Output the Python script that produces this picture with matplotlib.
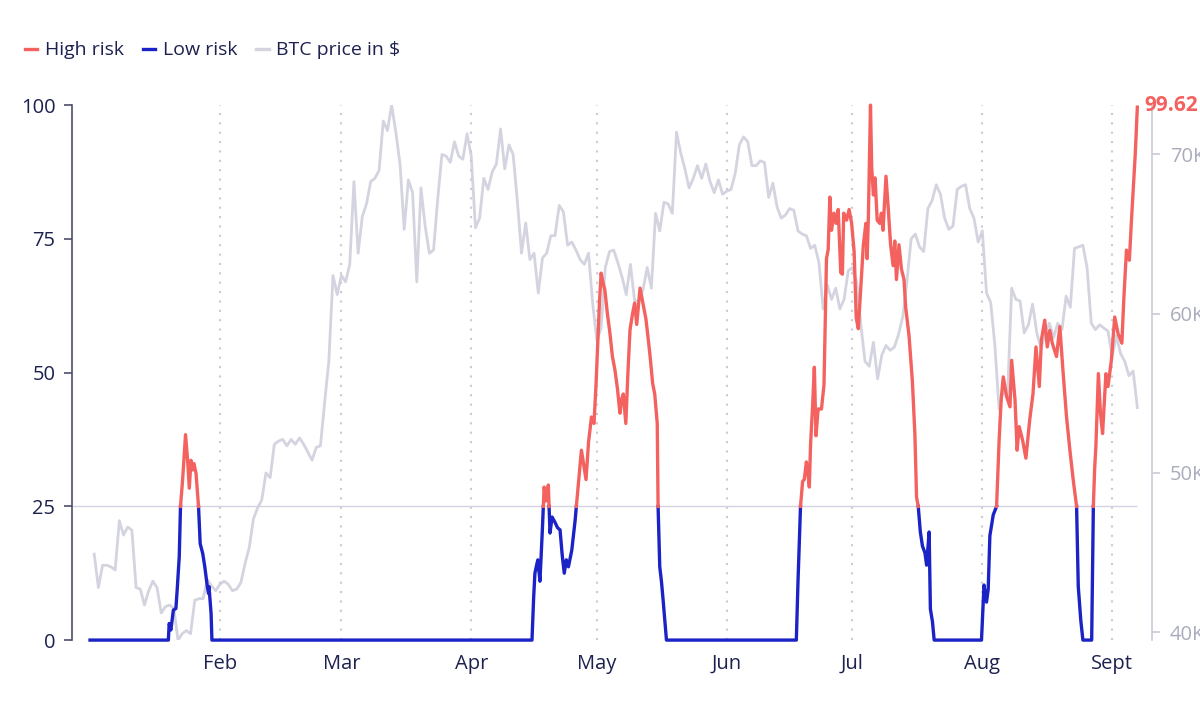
import numpy as np
import pandas as pd
import matplotlib.pyplot as plt
from matplotlib.lines import Line2D
from matplotlib.ticker import FuncFormatter

plt.rcParams['font.family'] = ['Open Sans', 'DejaVu Sans']

START = pd.Timestamp('2024-01-01')
THRESH = 25

# risk score, read as (days since Jan 1, value); zero in between the bursts
risk_day = [
    0, 18.7, 18.9, 19.3, 19.9, 20.5, 20.8, 21.3, 21.6, 22.1, 22.8, 23.1, 23.3, 23.7,
    24.1, 24.5, 24.8, 25.3, 25.9, 26.3, 26.9, 27.4, 28.0, 28.3, 28.4, 28.9, 29.1,
    105.5, 105.9, 106.2, 106.6, 106.9, 107.4, 108.0, 108.4, 108.8, 109.4, 109.8, 110.3,
    111.0, 111.6, 112.2, 112.7, 113.2, 113.7, 114.2, 115.0, 115.8, 116.5, 117.3, 117.8,
    118.4, 119.0, 119.7, 120.3, 120.8, 121.2, 121.6, 122.0, 122.4, 122.9, 123.5, 124.1,
    124.7, 125.3, 125.9, 126.5, 126.9, 127.3, 127.9, 128.4, 128.9, 129.5, 130.0, 130.5,
    131.3, 132.2, 132.7, 133.2, 133.7, 134.3, 134.8, 135.4, 135.6, 136.0, 136.4, 136.8,
    137.2, 137.6,
    168.6, 169.0, 169.6, 170.1, 170.5, 171.0, 171.4, 171.7, 172.0, 172.5, 172.9, 173.3,
    173.8, 174.6, 175.2, 175.5, 175.8, 176.2, 176.6, 177.0, 177.6, 178.1, 178.6, 179.2,
    179.6, 179.9, 180.6, 181.2, 181.8, 182.4, 182.9, 183.4, 183.9, 184.6, 185.2, 185.5,
    185.8, 186.3, 186.6, 187.0, 187.4, 187.9, 188.5, 188.9, 189.3, 190.0, 190.5, 191.1,
    191.7, 192.1, 192.5, 193.1, 193.7, 194.3, 194.7, 195.5, 196.3, 196.9, 197.3, 197.7,
    198.2, 198.7, 199.3, 199.7, 200.3, 200.6, 201.1, 201.5,
    212.8, 213.4, 214.0, 214.4, 214.8, 215.6, 216.4, 217.0, 217.5, 218.0, 218.8, 219.6,
    220.0, 220.8, 221.3, 221.8, 222.6, 223.4, 224.3, 225.1, 225.8, 226.6, 227.1, 227.9,
    228.5, 229.1, 229.7, 230.7, 231.5, 232.3, 233.1, 233.9, 234.7, 235.5, 235.9, 236.5,
    237.0, 239.1, 239.5, 239.8, 240.1, 240.7, 241.2, 241.7, 242.5, 243.0, 243.8, 244.6,
    245.4, 246.3, 246.8, 247.4, 248.1, 248.6, 249.1, 249.5, 250.0,
]
risk_value = [
    0, 0, 3.1, 1.9, 5.6, 5.9, 9.3, 15.6, 25, 29.9, 38.4, 35.5, 33.6, 28.4,
    33.6, 31.8, 33.0, 31.2, 25, 18, 16.2, 13.7, 10, 8.7, 10, 5, 0,
    0, 8, 12.5, 14, 15, 11, 21, 28.6, 26, 29, 20, 23,
    22, 21, 20.6, 16, 12.5, 15, 13.7, 16.8, 22.4, 28.6, 35.5, 33,
    30, 37, 41.7, 40.5, 48, 55.5, 63, 68.6, 67, 65.4, 61, 57.4,
    53, 50.5, 47, 42.4, 45, 46, 40.5, 50, 58, 61, 63, 59,
    65.8, 62, 60, 56.6, 53, 48, 46, 40.5, 25, 13.7, 11, 7.5,
    3.7, 0,
    0, 11, 25, 29.7, 30, 33.3, 31, 28.6, 36.6, 44, 51, 38.2,
    43.2, 43.2, 47.7, 60, 71.3, 73, 82.8, 76.6, 79.8, 77.9, 80.5, 68.7,
    68.4, 79.8, 78.5, 80.5, 77.9, 72.6, 60.2, 58.2, 64.8, 73.9, 77.9, 71.3,
    79.2, 100, 88.2, 83.2, 86.4, 78.5, 77.9, 79.8, 76.6, 86.7, 81.2, 73.9,
    70, 74.6, 67.4, 73.9, 69.3, 67.4, 62.2, 56.9, 48.4, 38.5, 26.7, 25,
    20.2, 17.6, 16.3, 14, 20.2, 5.8, 3.4, 0,
    0, 10.3, 7.1, 9.5, 19.5, 23.4, 25, 37.2, 45, 49.2, 45.5, 43.6,
    52.3, 44.9, 35.5, 39.9, 37.4, 34, 41.1, 46.1, 54.8, 47.4, 56.1, 59.8,
    54.8, 57.9, 55.5, 53, 58.6, 49.8, 41.7, 35.5, 29.9, 25, 10, 3.7,
    0, 0, 25, 31.9, 36.1, 49.8, 42.4, 38.6, 49.8, 47.4, 52.3, 60.4,
    57.3, 55.5, 64.2, 72.9, 71, 78.5, 85.3, 90.8, 99.62,
]
assert len(risk_day) == len(risk_value)

# BTC daily close in thousand $, starting Jan 2
btc_price_k = [
    44.9, 42.8, 44.2, 44.2, 44.1, 43.9, 47.0, 46.1, 46.6, 46.4, 42.8, 42.7, 41.7, 42.6, 43.2,
    42.8, 41.2, 41.6, 41.7, 41.5, 39.5, 39.9, 40.1, 39.9, 42.0, 42.1, 42.1, 43.3, 42.9, 42.6,
    43.0, 43.2, 43.0, 42.6, 42.7, 43.1, 44.3, 45.3, 47.1, 47.8, 48.3, 50.0, 49.7, 51.8, 52.0,
    52.1, 51.7, 52.1, 51.8, 52.2, 51.8, 51.3, 50.8, 51.6, 51.7, 54.4, 57.0, 62.4, 61.2,
    62.4, 62.0, 63.1, 68.3, 63.8, 66.1, 66.9, 68.3, 68.5, 69.0, 72.1, 71.5, 73.1, 71.4, 69.4,
    65.3, 68.4, 67.6, 62.0, 67.9, 65.5, 63.8, 64.0, 67.2, 70.0, 69.9, 69.5, 70.8, 69.9, 69.7, 71.3,
    69.9, 65.4, 66.0, 68.5, 67.8, 68.9, 69.4, 71.6, 69.1, 70.6, 70.0, 67.1, 63.8, 65.7, 63.4,
    63.8, 61.3, 63.5, 63.8, 64.9, 64.9, 66.8, 66.4, 64.3, 64.5, 64.0, 63.4, 63.1, 63.8, 60.6,
    58.3, 59.1, 62.9, 63.9, 64.0, 63.2, 62.3, 61.2, 63.1, 60.8, 60.8, 61.5, 62.9, 61.6, 66.3,
    65.2, 67.0, 66.9, 66.3, 71.4, 70.1, 69.1, 67.9, 68.5, 69.3, 68.5, 69.4, 68.3, 67.6, 68.4, 67.5,
    67.7, 67.8, 68.8, 70.6, 71.1, 70.8, 69.3, 69.3, 69.6, 69.5, 67.3, 68.2, 66.7, 66.0, 66.2,
    66.6, 66.5, 65.2, 65.0, 64.9, 64.1, 64.3, 63.2, 60.3, 61.8, 60.9, 61.6, 60.3, 60.9, 62.7,
    62.9, 62.0, 59.3, 57.0, 56.7, 58.2, 55.9, 57.4, 58.0, 57.7, 57.9, 58.7, 59.8, 62.0, 64.7,
    65.0, 64.2, 63.9, 66.6, 67.1, 68.1, 67.5, 66.0, 65.3, 65.5, 67.8, 68.0, 68.1, 66.6, 66.0, 64.5,
    65.2, 61.3, 60.7, 58.0, 54.0, 55.2, 54.7, 61.6, 60.9, 60.8, 58.8, 59.3, 60.6, 58.8, 57.8,
    58.8, 59.4, 58.5, 59.4, 59.0, 61.1, 60.4, 64.1, 64.2, 64.3, 62.9, 59.4, 59.0, 59.3, 59.1, 58.9,
    57.3, 58.6, 57.5, 57.0, 56.1, 56.4, 54.1,
]

month_labels = ['Feb', 'Mar', 'Apr', 'May', 'Jun', 'Jul', 'Aug', 'Sept']
month_starts = pd.to_datetime(['2024-02-01', '2024-03-01', '2024-04-01', '2024-05-01',
                               '2024-06-01', '2024-07-01', '2024-08-01', '2024-09-01'])

RED = '#f4625f'
BLUE = '#1b22c6'
GRAY = '#d3d4df'
NAVY = '#1c2150'

# add crossing points at the threshold so the colour switches exactly there
d = np.array(risk_day, float)
v = np.array(risk_value, float)
xs, ys = [d[0]], [v[0]]
for i in range(1, len(d)):
    a, b = v[i - 1], v[i]
    if (a - THRESH) * (b - THRESH) < 0:
        t = (THRESH - a) / (b - a)
        xs.append(d[i - 1] + t * (d[i] - d[i - 1]))
        ys.append(THRESH)
    xs.append(d[i])
    ys.append(b)
xs = np.array(xs)
ys = np.array(ys)
risk_dates = (START + pd.to_timedelta(xs, unit='D')).to_numpy()
high = np.ma.masked_where(ys < THRESH, ys)
low = np.ma.masked_where(ys > THRESH, ys)

price_dates = pd.date_range('2024-01-02', periods=len(btc_price_k))
price = np.array(btc_price_k) * 1000

fig = plt.figure(figsize=(12, 7.2), dpi=100)
ax = fig.add_axes([0.06, 0.111, 0.90, 0.743])
ax2 = ax.twinx()
ax.set_zorder(ax2.get_zorder() + 1)
ax.patch.set_visible(False)

# BTC price on the right axis
ax2.plot(price_dates, price, color=GRAY, lw=2, solid_joinstyle='round')
ax2.set_ylim(price.min(), price.max())
ax2.set_yticks([40000, 50000, 60000, 70000])
ax2.yaxis.set_major_formatter(FuncFormatter(lambda x, p: f'{x / 1000:.0f}K'))
for s in ['left', 'top', 'bottom']:
    ax2.spines[s].set_visible(False)
ax2.spines['right'].set_color('#c9cbd6')
ax2.spines['right'].set_linewidth(1.2)
ax2.tick_params(axis='y', colors='#c9cbd6', labelcolor='#a9acbd', length=6, width=1.2,
                labelsize=14.5, pad=7)

# month guides and the threshold line
for m in month_starts:
    ax.axvline(m, color='#c9cad4', lw=1.5, ls=(0, (1, 3.5)), zorder=0)
xmin = START - pd.Timedelta(days=4.3)
xmax = START + pd.Timedelta(days=253.5)
ax.hlines(THRESH, xmin, risk_dates[-1], color='#d3d3e3', lw=1, zorder=1)

ax.plot(risk_dates, low, color=BLUE, lw=2.4, clip_on=False, zorder=3)
ax.plot(risk_dates, high, color=RED, lw=2.4, clip_on=False, zorder=3)

ax.annotate(f'{risk_value[-1]:.2f}', xy=(risk_dates[-1], risk_value[-1]),
            xytext=(5, 1), textcoords='offset points', color=RED, fontweight='bold',
            fontsize=15, va='center', ha='left', annotation_clip=False)

ax.set_xlim(xmin, xmax)
ax.set_ylim(0, 100)
ax.set_yticks([0, 25, 50, 75, 100])
ax.set_xticks(month_starts)
ax.set_xticklabels(month_labels)
ax.tick_params(axis='x', length=0, pad=10, labelsize=14.5, labelcolor=NAVY)
ax.tick_params(axis='y', length=6, width=1.2, color='#4a4e6a', labelsize=14.5,
               labelcolor=NAVY, pad=6)
for s in ['top', 'right', 'bottom']:
    ax.spines[s].set_visible(False)
ax.spines['left'].set_color('#4a4e6a')
ax.spines['left'].set_linewidth(1.2)

handles = [Line2D([], [], color=RED, lw=2.4),
           Line2D([], [], color=BLUE, lw=2.4),
           Line2D([], [], color=GRAY, lw=2.4)]
fig.legend(handles, ['High risk', 'Low risk', 'BTC price in $'], loc='center left',
           bbox_to_anchor=(0.006, 0.93), ncol=3, frameon=False, handlelength=0.65,
           handletextpad=0.4, columnspacing=0.95, fontsize=14, labelcolor=NAVY)

fig.savefig('out.png', dpi=100)
